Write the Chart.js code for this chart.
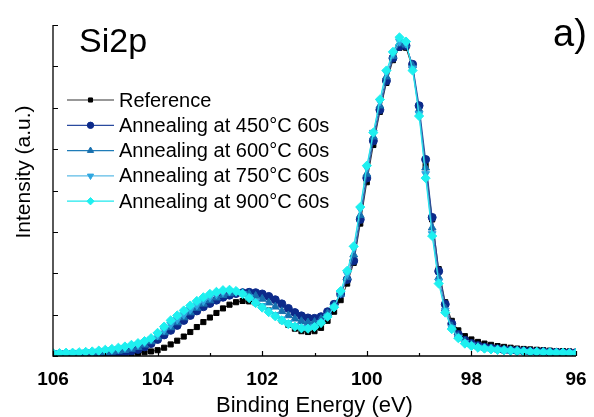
<!DOCTYPE html>
<html>
<head>
<meta charset="utf-8">
<script src="https://cdn.jsdelivr.net/npm/chart.js@4/dist/chart.umd.min.js"></script>
<style>
  html, body { margin: 0; padding: 0; background: #fff; }
  #wrap { width: 594px; height: 417px; }
</style>
</head>
<body>
<div id="wrap"><canvas id="xps" width="594" height="417"></canvas></div>
<script>
// binding energy grid (eV)
const energies = [106, 105.875, 105.75, 105.625, 105.5, 105.375, 105.25, 105.125, 105, 104.875,
  104.75, 104.625, 104.5, 104.375, 104.25, 104.125, 104, 103.875, 103.75, 103.625,
  103.5, 103.375, 103.25, 103.125, 103, 102.875, 102.75, 102.625, 102.5, 102.375,
  102.25, 102.125, 102, 101.875, 101.75, 101.625, 101.5, 101.375, 101.25, 101.125,
  101, 100.875, 100.75, 100.625, 100.5, 100.375, 100.25, 100.125, 100, 99.875,
  99.75, 99.625, 99.5, 99.375, 99.25, 99.125, 99, 98.875, 98.75, 98.625,
  98.5, 98.375, 98.25, 98.125, 98, 97.875, 97.75, 97.625, 97.5, 97.375,
  97.25, 97.125, 97, 96.875, 96.75, 96.625, 96.5, 96.375, 96.25, 96.125, 96];

const reference = [0.05, 0.05, 0.05, 0.05, 0.05, 0.05, 0.05, 0.05, 0.05, 0.05,
  0.05, 0.06, 0.06, 0.07, 0.09, 0.11, 0.14, 0.2, 0.28, 0.37,
  0.47, 0.58, 0.7, 0.82, 0.93, 1.04, 1.15, 1.24, 1.3, 1.33,
  1.32, 1.28, 1.2, 1.1, 0.98, 0.86, 0.75, 0.66, 0.6, 0.58,
  0.6, 0.68, 0.85, 1.07, 1.35, 1.75, 2.25, 3.2, 4.2, 5.1,
  5.9, 6.6, 7.15, 7.45, 7.45, 6.95, 5.9, 4.6, 3.3, 2.1,
  1.3, 0.85, 0.62, 0.48, 0.4, 0.34, 0.3, 0.27, 0.24, 0.22,
  0.2, 0.18, 0.17, 0.16, 0.15, 0.14, 0.13, 0.12, 0.12, 0.11, 0.1];

const anneal450 = [0.05, 0.05, 0.05, 0.05, 0.05, 0.05, 0.05, 0.05, 0.05, 0.06,
  0.07, 0.09, 0.12, 0.16, 0.22, 0.3, 0.4, 0.51, 0.62, 0.74,
  0.86, 0.98, 1.09, 1.19, 1.27, 1.35, 1.42, 1.47, 1.51, 1.53,
  1.54, 1.53, 1.5, 1.44, 1.36, 1.26, 1.15, 1.05, 0.97, 0.92,
  0.91, 0.95, 1.07, 1.25, 1.5, 1.85, 2.3, 3.3, 4.3, 5.2,
  5.95, 6.65, 7.2, 7.48, 7.5, 7.05, 6.05, 4.75, 3.35, 2.05,
  1.25, 0.78, 0.52, 0.38, 0.3, 0.25, 0.21, 0.19, 0.17, 0.15,
  0.14, 0.13, 0.12, 0.11, 0.1, 0.1, 0.09, 0.09, 0.08, 0.08, 0.08];

const anneal600 = [0.06, 0.06, 0.06, 0.06, 0.06, 0.07, 0.07, 0.08, 0.09, 0.1,
  0.12, 0.14, 0.17, 0.21, 0.27, 0.35, 0.45, 0.57, 0.69, 0.81,
  0.93, 1.05, 1.16, 1.26, 1.34, 1.41, 1.47, 1.51, 1.53, 1.53,
  1.5, 1.45, 1.38, 1.29, 1.19, 1.08, 0.98, 0.9, 0.84, 0.81,
  0.82, 0.89, 1.03, 1.22, 1.5, 1.9, 2.45, 3.4, 4.4, 5.3,
  6.05, 6.75, 7.25, 7.55, 7.52, 7.02, 5.95, 4.55, 3.1, 1.9,
  1.15, 0.72, 0.48, 0.35, 0.28, 0.23, 0.2, 0.18, 0.16, 0.14,
  0.13, 0.12, 0.11, 0.1, 0.1, 0.09, 0.09, 0.08, 0.08, 0.08, 0.07];

const anneal750 = [0.07, 0.07, 0.07, 0.08, 0.08, 0.09, 0.1, 0.11, 0.13, 0.15,
  0.17, 0.2, 0.23, 0.27, 0.33, 0.4, 0.5, 0.63, 0.76, 0.88,
  1.0, 1.12, 1.23, 1.33, 1.42, 1.49, 1.54, 1.56, 1.55, 1.5,
  1.42, 1.32, 1.21, 1.1, 0.99, 0.89, 0.8, 0.73, 0.69, 0.68,
  0.71, 0.8, 0.96, 1.18, 1.52, 1.98, 2.6, 3.55, 4.55, 5.4,
  6.15, 6.85, 7.3, 7.6, 7.55, 6.95, 5.85, 4.4, 2.95, 1.8,
  1.1, 0.68, 0.45, 0.32, 0.26, 0.21, 0.18, 0.16, 0.15, 0.13,
  0.12, 0.11, 0.1, 0.1, 0.09, 0.09, 0.08, 0.08, 0.08, 0.07, 0.07];

const anneal900 = [0.07, 0.07, 0.08, 0.08, 0.09, 0.1, 0.11, 0.13, 0.15, 0.17,
  0.2, 0.23, 0.27, 0.31, 0.36, 0.43, 0.56, 0.71, 0.86, 0.98,
  1.1, 1.22, 1.33, 1.42, 1.5, 1.55, 1.59, 1.6, 1.57, 1.5,
  1.4, 1.28, 1.17, 1.06, 0.96, 0.86, 0.77, 0.71, 0.67, 0.66,
  0.7, 0.8, 0.95, 1.18, 1.57, 2.06, 2.65, 3.6, 4.6, 5.4,
  6.2, 6.9, 7.35, 7.7, 7.6, 6.9, 5.8, 4.3, 2.9, 1.75,
  1.05, 0.65, 0.43, 0.3, 0.24, 0.2, 0.18, 0.16, 0.15, 0.14,
  0.13, 0.12, 0.11, 0.1, 0.1, 0.09, 0.09, 0.08, 0.08, 0.07, 0.07];

const seriesNames = ['Reference', 'Annealing at 450°C 60s', 'Annealing at 600°C 60s',
  'Annealing at 750°C 60s', 'Annealing at 900°C 60s'];

const xMajorTicks = [106, 104, 102, 100, 98, 96];
const xMinorTicks = [105, 103, 101, 99, 97];
const yTicks = [0, 1, 2, 3, 4, 5, 6, 7, 8];

const FONT = '"Liberation Sans", Arial, sans-serif';

function toPoints(values) {
  return values.map((v, i) => ({ x: energies[i], y: v }));
}

function makeSet(label, values, line, fill, style, radius, rotation, order) {
  return {
    label: label,
    data: toPoints(values),
    borderColor: line,
    backgroundColor: fill,
    pointBackgroundColor: fill,
    pointBorderColor: fill,
    pointStyle: style,
    pointRadius: radius,
    pointRotation: rotation,
    borderWidth: 1,
    pointBorderWidth: 1,
    tension: 0,
    order: order
  };
}

const datasets = [
  makeSet(seriesNames[0], reference, '#333333', '#000000', 'rect', 3.6, 0, 4),
  makeSet(seriesNames[1], anneal450, '#2a4a9e', '#0c2a8a', 'circle', 4, 0, 3),
  makeSet(seriesNames[2], anneal600, '#1f7cb8', '#176fae', 'triangle', 4.5, 0, 2),
  makeSet(seriesNames[3], anneal750, '#5cbbe6', '#2fa7e0', 'triangle', 4.5, 180, 1),
  makeSet(seriesNames[4], anneal900, '#1ee8ee', '#1ef0f0', 'rectRot', 4.6, 0, 0)
];

// axes, labels, titles and legend drawn by hand so ticks can point inward
const decorations = {
  id: 'decorations',
  afterDraw(chart) {
    const ctx = chart.ctx;
    const xs = chart.scales.x;
    const ys = chart.scales.y;
    const left = xs.left, right = xs.right;
    const top = ys.top, bottom = ys.bottom;

    ctx.save();
    ctx.strokeStyle = '#000';
    ctx.lineWidth = 1.3;
    ctx.beginPath();
    ctx.moveTo(left, top);
    ctx.lineTo(left, bottom);
    ctx.lineTo(right, bottom);
    ctx.stroke();

    ctx.lineWidth = 1.2;
    ctx.beginPath();
    xMajorTicks.forEach(t => {
      const px = Math.round(xs.getPixelForValue(t)) + 0.5;
      ctx.moveTo(px, bottom);
      ctx.lineTo(px, bottom - 5);
    });
    xMinorTicks.forEach(t => {
      const px = Math.round(xs.getPixelForValue(t)) + 0.5;
      ctx.moveTo(px, bottom);
      ctx.lineTo(px, bottom - 3);
    });
    yTicks.forEach(t => {
      const py = Math.round(ys.getPixelForValue(t)) + 0.5;
      ctx.moveTo(left, py);
      ctx.lineTo(left + 5, py);
    });
    ctx.stroke();

    ctx.fillStyle = '#000';
    ctx.font = 'bold 19px ' + FONT;
    ctx.textAlign = 'center';
    ctx.textBaseline = 'middle';
    xMajorTicks.forEach(t => {
      ctx.fillText(String(t), xs.getPixelForValue(t), bottom + 24);
    });

    ctx.font = '22px ' + FONT;
    ctx.textBaseline = 'alphabetic';
    ctx.fillText('Binding Energy (eV)', (left + right) / 2, 412);

    ctx.save();
    ctx.translate(30, 172);
    ctx.rotate(-Math.PI / 2);
    ctx.font = '21px ' + FONT;
    ctx.fillText('Intensity (a.u.)', 0, 0);
    ctx.restore();

    ctx.textAlign = 'left';
    ctx.font = '34px ' + FONT;
    ctx.fillText('Si2p', 79, 52);
    ctx.font = '38px ' + FONT;
    ctx.fillText('a)', 553, 46);

    // legend
    ctx.font = '20px ' + FONT;
    ctx.textBaseline = 'middle';
    chart.data.datasets.forEach((ds, i) => {
      const y = 100 + i * 25.3;
      ctx.strokeStyle = ds.borderColor;
      ctx.lineWidth = 1.2;
      ctx.beginPath();
      ctx.moveTo(67, y);
      ctx.lineTo(114, y);
      ctx.stroke();
      ctx.fillStyle = ds.pointBackgroundColor;
      ctx.strokeStyle = ds.pointBorderColor;
      ctx.lineWidth = 1;
      Chart.helpers.drawPoint(ctx, {
        pointStyle: ds.pointStyle,
        radius: ds.pointRadius * 0.8,
        rotation: ds.pointRotation,
        borderWidth: 1
      }, 90.5, y);
      ctx.fillStyle = '#000';
      ctx.fillText(ds.label, 119, y + 1);
    });
    ctx.restore();
  }
};

new Chart(document.getElementById('xps').getContext('2d'), {
  type: 'line',
  data: { datasets: datasets },
  options: {
    responsive: false,
    animation: false,
    devicePixelRatio: 1,
    layout: { padding: { left: 53, right: 18, top: 25, bottom: 61 } },
    scales: {
      x: { type: 'linear', min: 96, max: 106, reverse: true, display: false },
      y: { min: 0, max: 8, display: false }
    },
    plugins: {
      legend: { display: false },
      tooltip: { enabled: false }
    }
  },
  plugins: [decorations]
});
</script>
</body>
</html>
